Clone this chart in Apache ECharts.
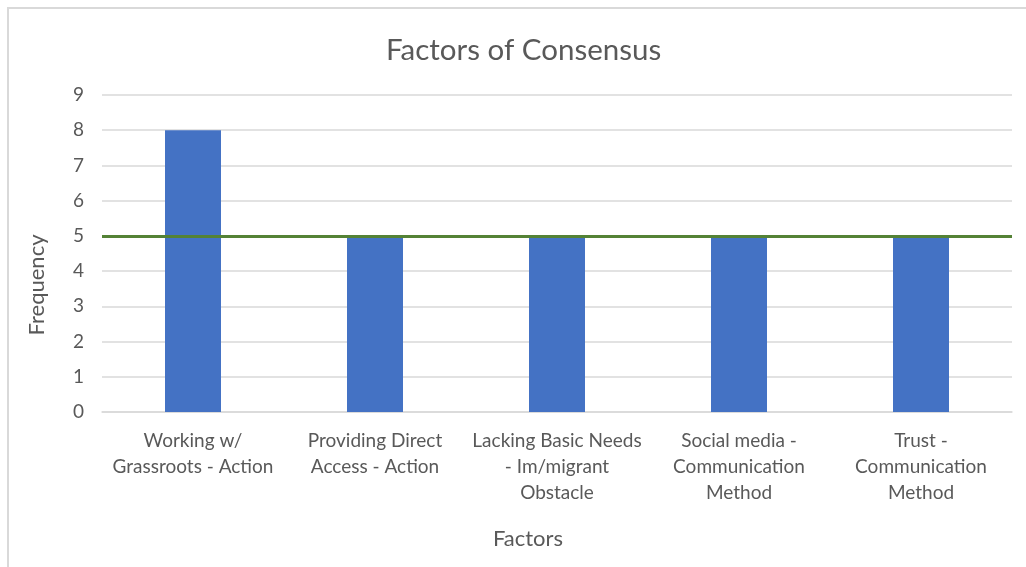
<!DOCTYPE html>
<html>
<head>
<meta charset="utf-8">
<script src="https://cdn.jsdelivr.net/npm/echarts@6/dist/echarts.min.js"></script>
<style>
  html, body { margin: 0; padding: 0; background: #ffffff; }
  #chart { width: 1026px; height: 567px; }
</style>
</head>
<body>
<div id="chart"></div>
<script>
// Category tick labels (wrapped as they appear under the axis)
const categories = [
  'Working w/\nGrassroots - Action',
  'Providing Direct\nAccess - Action',
  'Lacking Basic Needs\n- Im/migrant\nObstacle',
  'Social media -\nCommunication\nMethod',
  'Trust -\nCommunication\nMethod'
];
// Frequency of each factor
const frequency = [8, 5, 5, 5, 5];
// Consensus threshold drawn across the plot
const threshold = 5;
// Y-axis ticks
const yTicks = [0, 1, 2, 3, 4, 5, 6, 7, 8, 9];

const textColor = '#595959';
const font = 'Lato, "Open Sans", sans-serif';

const chart = echarts.init(document.getElementById('chart'));
chart.setOption({
  backgroundColor: '#ffffff',
  animation: false,
  textStyle: { fontFamily: font },
  title: {
    text: 'Factors of Consensus',
    left: 381,
    top: 30,
    padding: [5, 5, 5, 5],
    textStyle: { fontFamily: font, fontSize: 29.5, fontWeight: 'normal', color: textColor }
  },
  graphic: [{
    type: 'rect',
    shape: { x: 8, y: 8, width: 1040, height: 600 },
    style: { fill: 'none', stroke: '#d9d9d9', lineWidth: 2 },
    silent: true
  }],
  grid: { left: 102, right: 14, top: 95, bottom: 155 },
  xAxis: {
    type: 'category',
    data: categories,
    name: 'Factors',
    nameLocation: 'middle',
    nameGap: 116,
    nameTextStyle: { fontFamily: font, fontSize: 22, color: textColor, padding: [0, 58, 0, 0] },
    axisLine: { lineStyle: { color: '#d9d9d9', width: 1.5 } },
    axisTick: { show: false },
    axisLabel: {
      interval: 0,
      margin: 16,
      fontFamily: font,
      fontSize: 19,
      color: textColor,
      lineHeight: 26,
      align: 'center'
    }
  },
  yAxis: {
    type: 'value',
    min: yTicks[0],
    max: yTicks[yTicks.length - 1],
    interval: 1,
    name: 'Frequency',
    nameLocation: 'middle',
    nameGap: 54,
    nameRotate: 90,
    nameTextStyle: { fontFamily: font, fontSize: 22, color: textColor, padding: [0, 63, 0, 0] },
    axisLine: { show: false },
    axisTick: { show: false },
    axisLabel: { margin: 18, fontFamily: font, fontSize: 19, color: textColor },
    splitLine: { lineStyle: { color: '#d9d9d9', width: 1.5 } }
  },
  series: [{
    type: 'bar',
    data: frequency,
    barWidth: 56,
    itemStyle: { color: '#4472c4' },
    markLine: {
      silent: true,
      symbol: ['none', 'none'],
      label: { show: false },
      lineStyle: { color: '#548235', width: 3, type: 'solid' },
      data: [{ yAxis: threshold }]
    }
  }]
});
</script>
</body>
</html>
